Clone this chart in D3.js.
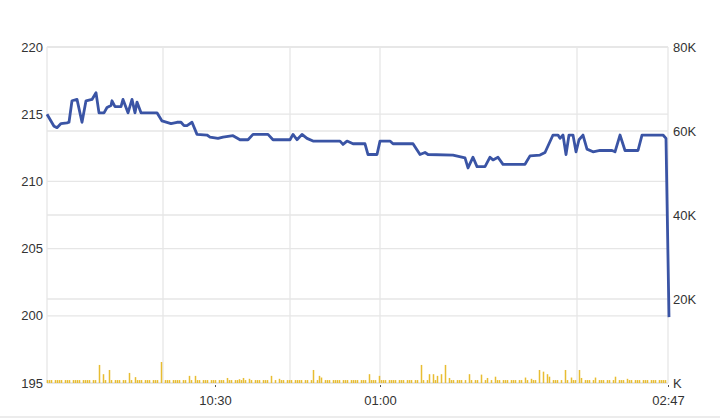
<!DOCTYPE html>
<html>
<head>
<meta charset="utf-8">
<script src="https://cdn.jsdelivr.net/npm/d3@7"></script>
<style>
  body { margin: 0; background: #fff; }
  text { font-family: "Liberation Sans", Arial, sans-serif; font-size: 13px; fill: #333; }
</style>
</head>
<body>
<div id="chart"></div>
<script>
// price line vertices: slot position and price
var priceSlot = [0, 3.5, 5, 7, 10, 11, 12.5, 15, 17.5, 19.5, 22.5, 24.5, 26, 28.5, 30, 32, 32.5, 34, 37, 38,
  40.5, 42.5, 44, 45, 47, 55, 57.5, 62, 65, 67, 68.5, 70, 72.5, 75, 80, 81.5, 85.5, 88, 93, 96.5,
  100.5, 103, 110.5, 113, 121.5, 123, 125, 127.5, 130, 133, 146.5, 148, 150, 153, 159, 160.5, 165, 166.5, 171.5, 173,
  183, 186.5, 189, 190.5, 203, 209, 210.5, 213, 215, 219, 221.5, 223, 225.5, 228, 239, 241.5, 246.5, 249, 253, 255.5,
  256.5, 258, 259.5, 261, 263, 264.5, 266, 268, 270, 273, 276.5, 282.5, 284, 286.5, 289, 295.5, 297.5, 308, 309.5, 311];
var priceVal = [215.0, 214.1, 214.0, 214.3, 214.35, 214.4, 216.0, 216.1, 214.4, 216.0, 216.1, 216.6, 215.1, 215.1, 215.5, 215.65, 216.0, 215.56, 215.56, 216.1,
  215.1, 216.1, 215.1, 215.9, 215.1, 215.1, 214.5, 214.3, 214.4, 214.4, 214.15, 214.15, 214.4, 213.5, 213.45, 213.3, 213.2, 213.3, 213.4, 213.1,
  213.1, 213.5, 213.5, 213.1, 213.1, 213.5, 213.1, 213.5, 213.2, 213.0, 213.0, 212.75, 213.0, 212.8, 212.8, 212.0, 212.0, 213.0, 213.0, 212.8,
  212.8, 212.0, 212.15, 212.0, 211.95, 211.75, 211.0, 211.8, 211.1, 211.1, 211.8, 211.6, 211.8, 211.27, 211.27, 211.9, 211.96, 212.15, 213.45, 213.45,
  213.2, 213.45, 212.0, 213.45, 213.45, 212.2, 213.1, 213.45, 212.4, 212.2, 212.3, 212.3, 212.2, 213.45, 212.3, 212.3, 213.45, 213.45, 213.2, 199.9];

// volume per slot, in thousands
var volume = [
  0.7, 0.7, 0.7, 0, 0.7, 0.7, 0.7, 0.7, 0, 0.7, 0.7, 0.7, 0, 0.7, 0.7, 0.7, 0.7, 0, 0.7, 0.7,
  0.7, 0.7, 0, 0.7, 0.7, 0, 4.3, 0, 2.1, 0.7, 0, 3.1, 0.7, 0, 0.7, 0.7, 0.7, 0, 0.7, 0.7,
  0, 2.4, 0.7, 0, 1.4, 0.7, 0.7, 0.7, 0, 0.7, 0.7, 0.7, 0, 0.7, 0.7, 0.7, 0, 5.0, 0, 0.7,
  0.7, 0.7, 0, 0.7, 0.7, 0.7, 0.7, 0, 0.7, 0.7, 0, 1.7, 0.7, 0, 1.7, 0.7, 0.7, 0, 0.7, 0.7,
  0.7, 0, 0.7, 0.7, 0.7, 0, 0.7, 0.7, 0.7, 0, 1.2, 0.7, 0.7, 0, 0.7, 0.7, 0.9, 0.7, 1.2, 0.7,
  0, 1.0, 0.7, 0, 0.7, 0.7, 0.7, 0, 0.7, 0.7, 0.7, 0, 1.7, 0, 0.7, 0, 1.0, 0.7, 0.7, 0,
  0.7, 0.7, 0.7, 0, 0.7, 0.7, 0.7, 0.7, 0, 0.7, 0.7, 0, 0.7, 3.1, 0, 0.7, 1.7, 1.3, 0, 0.7,
  0.7, 0.7, 0, 0.7, 0.7, 0.7, 0.7, 0, 0.7, 0.7, 0.7, 0, 0.7, 0.7, 0.7, 0.7, 0, 0.7, 0.7, 0.7,
  0, 2.1, 0.7, 0.7, 0.7, 0, 1.7, 0.7, 0.7, 0.7, 0, 0.7, 0.7, 0.7, 0.7, 0, 0.7, 0.7, 0.7, 0,
  0.7, 0.7, 0.7, 0, 0.7, 0.7, 0, 4.3, 0.7, 0, 0.7, 2.1, 0, 2.1, 0.7, 1.7, 0, 2.1, 0, 4.3,
  0, 1.2, 0.7, 0.7, 0, 0.7, 0.7, 0.7, 0, 0.7, 0, 2.1, 0.7, 0, 0.7, 0.7, 0, 2.0, 0, 0.7,
  1.2, 0, 0.7, 0, 1.5, 0.7, 0.7, 0, 0.7, 0.7, 0.7, 0, 0.7, 0.7, 0.7, 0, 0.7, 0.7, 0, 1.3,
  0.7, 0, 1.0, 0.7, 0.7, 0, 3.1, 0, 2.7, 0, 2.1, 1.5, 0, 0.7, 0.7, 0.7, 0, 0.7, 0, 3.1,
  0.7, 0, 1.3, 0.7, 0.7, 0, 3.1, 1.2, 0, 0.7, 0.7, 0.7, 0, 0.7, 1.3, 0, 0.7, 0.7, 0.7, 0,
  0.7, 0.7, 0, 0.7, 1.5, 0, 0.7, 0.7, 0.7, 0, 1.0, 0.7, 0.7, 0, 0.7, 0.7, 0.7, 0, 0.7, 0.7,
  0.7, 0, 0.7, 0.7, 0.7, 0, 0.7, 0.7, 0.7, 0.7, 0];

// axis ticks
var priceTicks = [195, 200, 205, 210, 215, 220];
var volTicks = [0, 20000, 40000, 60000, 80000];
var timeLabels = ["10:30", "01:00", "02:47"];
var timeSlots = [84, 166.5, 310.5];
var gridSlots = [58, 121.5, 166.5, 265];

var svgWidth = 720;
var svgHeight = 419;
var margin = { top: 47, right: 52, bottom: 36, left: 47 };
var width = svgWidth - margin.left - margin.right;
var height = svgHeight - margin.top - margin.bottom;

var svg = d3.select("#chart")
  .append("svg")
  .attr("width", svgWidth)
  .attr("height", svgHeight);

var chartGroup = svg.append("g")
  .attr("transform", `translate(${margin.left}, ${margin.top})`);

var xScale = d3.scaleLinear().domain([0, 310.5]).range([0, width]);
var yPrice = d3.scaleLinear().domain([195, 220]).range([height, 0]);
var yVol = d3.scaleLinear().domain([0, 80000]).range([height, 0]);

// grid lines
var grid = chartGroup.append("g").attr("stroke", "#e6e6e6").attr("stroke-width", 1.3);
grid.selectAll(".hp")
  .data(priceTicks)
  .enter()
  .append("line")
  .attr("x1", 0).attr("x2", width)
  .attr("y1", d => yPrice(d)).attr("y2", d => yPrice(d));
grid.selectAll(".hv")
  .data(volTicks)
  .enter()
  .append("line")
  .attr("x1", 0).attr("x2", width)
  .attr("y1", d => yVol(d)).attr("y2", d => yVol(d));
grid.selectAll(".vg")
  .data(gridSlots.concat([0, 310.5]))
  .enter()
  .append("line")
  .attr("x1", d => xScale(d)).attr("x2", d => xScale(d))
  .attr("y1", 0).attr("y2", height);

// bottom rule of the frame
svg.append("line")
  .attr("x1", 0).attr("x2", svgWidth)
  .attr("y1", 417).attr("y2", 417)
  .attr("stroke", "#e6e6e6")
  .attr("stroke-width", 1.3);

// volume bars
chartGroup.selectAll(".vol")
  .data(volume)
  .enter()
  .append("rect")
  .attr("x", (d, i) => Math.round(xScale(i)) - 0.25)
  .attr("width", 1.5)
  .attr("y", d => yVol(d * 1000))
  .attr("height", d => height - yVol(d * 1000))
  .attr("fill", "#e8bd32");

// price line
var priceData = priceSlot.map((s, i) => ({ slot: s, price: priceVal[i] }));
var line = d3.line()
  .x(d => xScale(d.slot))
  .y(d => yPrice(d.price));
chartGroup.append("path")
  .datum(priceData)
  .attr("d", line)
  .attr("fill", "none")
  .attr("stroke", "#3a54a5")
  .attr("stroke-width", 2.8)
  .attr("stroke-linejoin", "round");

// left axis
var leftAxis = d3.axisLeft(yPrice).tickValues(priceTicks).tickSize(0).tickPadding(4);
chartGroup.append("g")
  .call(leftAxis)
  .call(g => g.select(".domain").remove())
  .selectAll("text").attr("fill", "#333").style("font-size", "13px");

// right axis
var rightAxis = d3.axisRight(yVol).tickValues(volTicks).tickSize(0).tickPadding(5)
  .tickFormat(d => (d === 0 ? "" : d / 1000) + "K");
chartGroup.append("g")
  .attr("transform", `translate(${width}, 0)`)
  .call(rightAxis)
  .call(g => g.select(".domain").remove())
  .selectAll("text").attr("fill", "#333").style("font-size", "13px");

// time axis
var bottomAxis = d3.axisBottom(xScale).tickValues(timeSlots).tickSize(2).tickPadding(9)
  .tickFormat((d, i) => timeLabels[i]);
var xAxis = chartGroup.append("g")
  .attr("transform", `translate(0, ${height + 2})`)
  .call(bottomAxis);
xAxis.select(".domain").remove();
xAxis.selectAll("line").attr("stroke", "#555");
xAxis.selectAll("text").attr("fill", "#333").style("font-size", "13px");
</script>
</body>
</html>
